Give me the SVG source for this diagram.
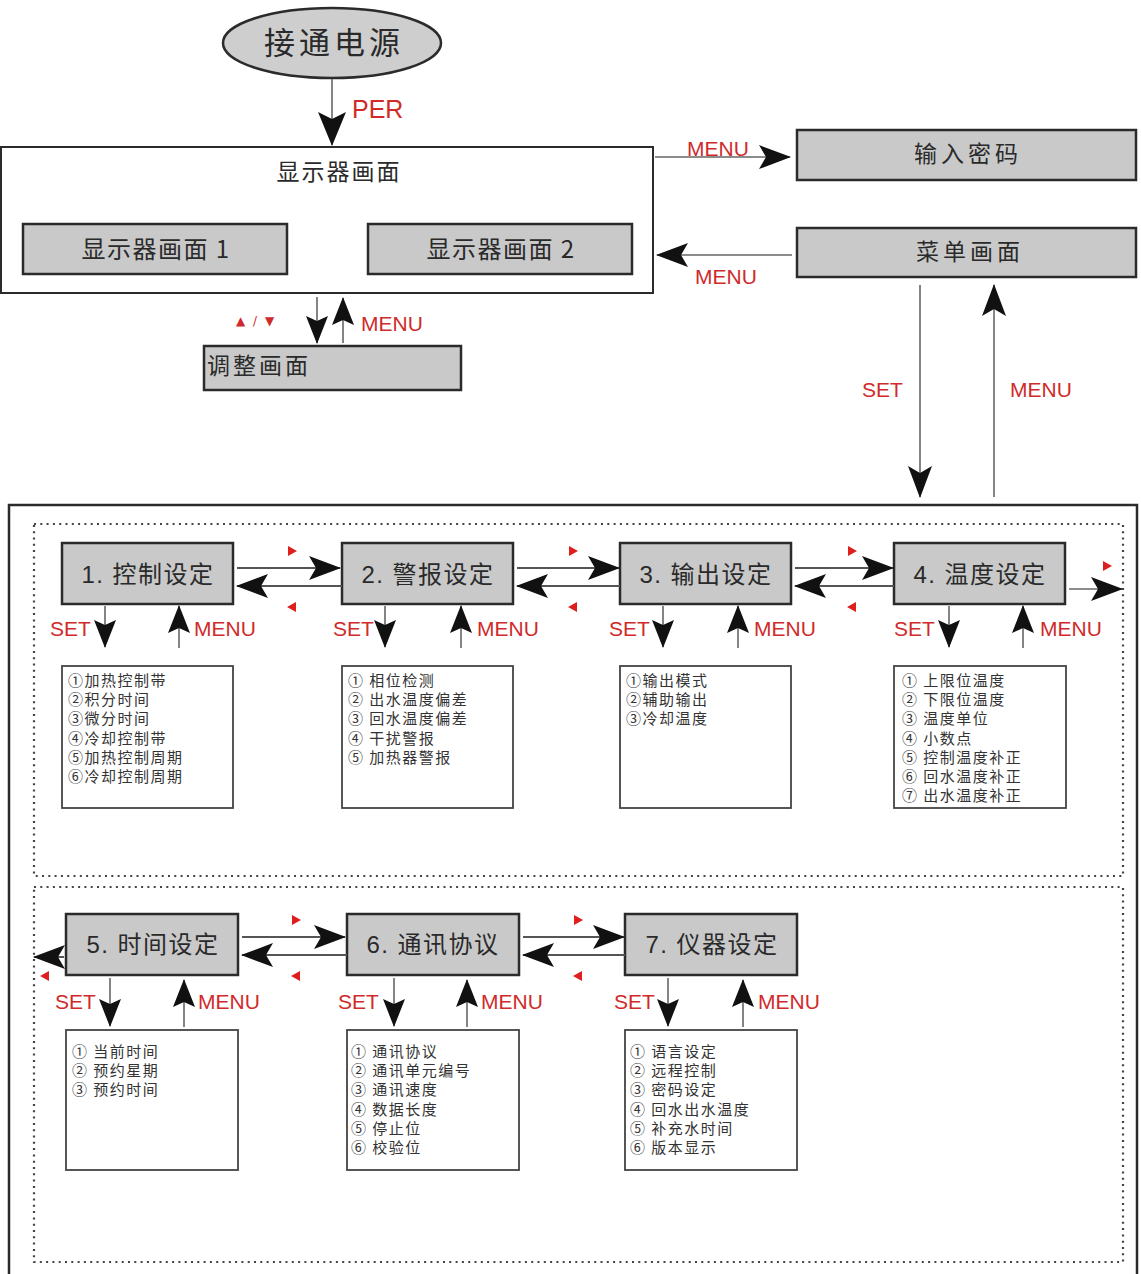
<svg xmlns="http://www.w3.org/2000/svg" width="1141" height="1274" viewBox="0 0 1141 1274">
<style>
.box{fill:#c9c9c9;stroke:#2b2b2b;stroke-width:2.5}
.wbox{fill:#fff;stroke:#2b2b2b;stroke-width:2}
.list{fill:#fff;stroke:#444;stroke-width:1.8}
.cj{font-family:"Noto Sans CJK SC","Liberation Sans",sans-serif;fill:#2a2a2a}
.hd{font-family:"Liberation Sans","Noto Sans CJK SC",sans-serif;font-size:24px;fill:#2a2a2a;text-anchor:middle;letter-spacing:1.5px}
.li{font-family:"Noto Sans CJK SC",sans-serif;font-size:15px;fill:#333;letter-spacing:1.5px}
.key{font-family:"Liberation Sans",Arial,sans-serif;font-size:21px;fill:#d02a2a}
.ln{fill:none;stroke:#555;stroke-width:2}
.lnb{fill:none;stroke:#666;stroke-width:1.6}
.dot{fill:none;stroke:#444;stroke-width:2.2;stroke-dasharray:2 4.3}
.rt{fill:#dd1f1f}
</style>
<defs>
<marker id="ah" markerUnits="userSpaceOnUse" viewBox="0 0 34 28" markerWidth="34" markerHeight="28" refX="33" refY="14" orient="auto"><path d="M0,0 L34,14 L0,28 L7,14 Z" fill="#111"/></marker>
<marker id="ab" markerUnits="userSpaceOnUse" viewBox="0 0 32 24" markerWidth="32" markerHeight="24" refX="31" refY="12" orient="auto"><path d="M0,0 L32,12 L0,24 L7,12 Z" fill="#111"/></marker>
<marker id="am" markerUnits="userSpaceOnUse" viewBox="0 0 28 22" markerWidth="28" markerHeight="22" refX="27" refY="11" orient="auto"><path d="M0,0 L28,11 L0,22 L5,11 Z" fill="#111"/></marker>
</defs>

<!-- frames -->
<g id="frames">
<rect x="9" y="505" width="1128" height="800" fill="none" stroke="#2b2b2b" stroke-width="2.5"/>
<rect class="dot" x="34" y="524" width="1089" height="352"/>
<rect class="dot" x="34" y="887" width="1089" height="375"/>
</g>

<g id="power">
<ellipse cx="332" cy="43" rx="109" ry="35" fill="#cecece" stroke="#2b2b2b" stroke-width="2.5"/>
<text class="cj" x="334" y="54" font-size="31" text-anchor="middle" letter-spacing="4">接通电源</text>
</g>

<g id="display">
<rect class="wbox" x="1" y="147" width="652" height="146"/>
<text class="cj" x="339" y="180" font-size="23" text-anchor="middle" letter-spacing="2">显示器画面</text>
</g>
<g id="display1">
<rect class="box" x="23" y="224" width="264" height="50"/>
<text class="cj" x="156" y="258" font-size="24" text-anchor="middle" letter-spacing="1.5">显示器画面 1</text>
</g>
<g id="display2">
<rect class="box" x="368" y="224" width="264" height="50"/>
<text class="cj" x="501" y="258" font-size="24" text-anchor="middle" letter-spacing="1.5">显示器画面 2</text>
</g>
<g id="adjust">
<rect class="box" x="204" y="346" width="257" height="44"/>
<text class="cj" x="207" y="374" font-size="23" letter-spacing="3">调整画面</text>
</g>
<g id="password">
<rect class="box" x="797" y="130" width="339" height="50"/>
<text class="cj" x="968" y="162" font-size="23" text-anchor="middle" letter-spacing="4">输入密码</text>
</g>
<g id="menu">
<rect class="box" x="797" y="228" width="339" height="49"/>
<text class="cj" x="970" y="260" font-size="23" text-anchor="middle" letter-spacing="4">菜单画面</text>
</g>

<!-- row 1 -->
<g id="n1">
<rect class="box" x="62" y="543" width="171" height="61"/>
<text class="hd" x="148" y="583">1. 控制设定</text>
</g>
<g id="n2">
<rect class="box" x="342" y="543" width="171" height="61"/>
<text class="hd" x="428" y="583">2. 警报设定</text>
</g>
<g id="n3">
<rect class="box" x="620" y="543" width="171" height="61"/>
<text class="hd" x="706" y="583">3. 输出设定</text>
</g>
<g id="n4">
<rect class="box" x="894" y="543" width="171" height="61"/>
<text class="hd" x="980" y="583">4. 温度设定</text>
</g>

<g id="l1">
<rect class="list" x="62" y="666" width="171" height="142"/>
<text class="li" x="68" y="686">①加热控制带</text>
<text class="li" x="68" y="705">②积分时间</text>
<text class="li" x="68" y="724">③微分时间</text>
<text class="li" x="68" y="744">④冷却控制带</text>
<text class="li" x="68" y="763">⑤加热控制周期</text>
<text class="li" x="68" y="782">⑥冷却控制周期</text>
</g>
<g id="l2">
<rect class="list" x="342" y="666" width="171" height="142"/>
<text class="li" x="348" y="686">① 相位检测</text>
<text class="li" x="348" y="705">② 出水温度偏差</text>
<text class="li" x="348" y="724">③ 回水温度偏差</text>
<text class="li" x="348" y="744">④ 干扰警报</text>
<text class="li" x="348" y="763">⑤ 加热器警报</text>
</g>
<g id="l3">
<rect class="list" x="620" y="666" width="171" height="142"/>
<text class="li" x="626" y="686">①输出模式</text>
<text class="li" x="626" y="705">②辅助输出</text>
<text class="li" x="626" y="724">③冷却温度</text>
</g>
<g id="l4">
<rect class="list" x="894" y="666" width="172" height="142"/>
<text class="li" x="902" y="686">① 上限位温度</text>
<text class="li" x="902" y="705">② 下限位温度</text>
<text class="li" x="902" y="724">③ 温度单位</text>
<text class="li" x="902" y="744">④ 小数点</text>
<text class="li" x="902" y="763">⑤ 控制温度补正</text>
<text class="li" x="902" y="782">⑥ 回水温度补正</text>
<text class="li" x="902" y="801">⑦ 出水温度补正</text>
</g>

<!-- row 2 -->
<g id="n5">
<rect class="box" x="66" y="914" width="172" height="61"/>
<text class="hd" x="153" y="953">5. 时间设定</text>
</g>
<g id="n6">
<rect class="box" x="347" y="914" width="172" height="61"/>
<text class="hd" x="433" y="953">6. 通讯协议</text>
</g>
<g id="n7">
<rect class="box" x="625" y="914" width="172" height="61"/>
<text class="hd" x="712" y="953">7. 仪器设定</text>
</g>

<g id="l5">
<rect class="list" x="66" y="1030" width="172" height="140"/>
<text class="li" x="72" y="1057">① 当前时间</text>
<text class="li" x="72" y="1076">② 预约星期</text>
<text class="li" x="72" y="1095">③ 预约时间</text>
</g>
<g id="l6">
<rect class="list" x="347" y="1030" width="172" height="140"/>
<text class="li" x="351" y="1057">① 通讯协议</text>
<text class="li" x="351" y="1076">② 通讯单元编号</text>
<text class="li" x="351" y="1095">③ 通讯速度</text>
<text class="li" x="351" y="1115">④ 数据长度</text>
<text class="li" x="351" y="1134">⑤ 停止位</text>
<text class="li" x="351" y="1153">⑥ 校验位</text>
</g>
<g id="l7">
<rect class="list" x="625" y="1030" width="172" height="140"/>
<text class="li" x="630" y="1057">① 语言设定</text>
<text class="li" x="630" y="1076">② 远程控制</text>
<text class="li" x="630" y="1095">③ 密码设定</text>
<text class="li" x="630" y="1115">④ 回水出水温度</text>
<text class="li" x="630" y="1134">⑤ 补充水时间</text>
<text class="li" x="630" y="1153">⑥ 版本显示</text>
</g>

<!-- connectors -->
<g id="connectors">
<line class="lnb" x1="332" y1="79" x2="332" y2="145" marker-end="url(#ah)"/>
<line class="lnb" x1="655" y1="157" x2="790" y2="157" marker-end="url(#ab)"/>
<line class="lnb" x1="792" y1="255" x2="657" y2="255" marker-end="url(#ab)"/>
<line class="lnb" x1="920" y1="285" x2="920" y2="497" marker-end="url(#ab)"/>
<line class="lnb" x1="994" y1="497" x2="994" y2="285" marker-end="url(#ab)"/>
<line class="lnb" x1="317" y1="297" x2="317" y2="343" marker-end="url(#am)"/>
<line class="lnb" x1="343" y1="343" x2="343" y2="298" marker-end="url(#am)"/>

<line class="ln" x1="237" y1="568" x2="340" y2="568" marker-end="url(#ab)"/>
<line class="ln" x1="342" y1="586" x2="237" y2="586" marker-end="url(#ab)"/>
<line class="ln" x1="517" y1="568" x2="619" y2="568" marker-end="url(#ab)"/>
<line class="ln" x1="620" y1="586" x2="517" y2="586" marker-end="url(#ab)"/>
<line class="ln" x1="795" y1="568" x2="893" y2="568" marker-end="url(#ab)"/>
<line class="ln" x1="894" y1="586" x2="795" y2="586" marker-end="url(#ab)"/>
<line class="lnb" x1="1069" y1="589" x2="1122" y2="589" marker-end="url(#ab)"/>

<line class="lnb" x1="105" y1="606" x2="105" y2="647" marker-end="url(#am)"/>
<line class="lnb" x1="179" y1="648" x2="179" y2="606" marker-end="url(#am)"/>
<line class="lnb" x1="385" y1="606" x2="385" y2="647" marker-end="url(#am)"/>
<line class="lnb" x1="461" y1="648" x2="461" y2="606" marker-end="url(#am)"/>
<line class="lnb" x1="663" y1="606" x2="663" y2="647" marker-end="url(#am)"/>
<line class="lnb" x1="738" y1="648" x2="738" y2="606" marker-end="url(#am)"/>
<line class="lnb" x1="949" y1="606" x2="949" y2="647" marker-end="url(#am)"/>
<line class="lnb" x1="1023" y1="648" x2="1023" y2="606" marker-end="url(#am)"/>

<line class="ln" x1="64" y1="957" x2="34" y2="957" marker-end="url(#ab)"/>
<line class="ln" x1="242" y1="937" x2="345" y2="937" marker-end="url(#ab)"/>
<line class="ln" x1="347" y1="955" x2="242" y2="955" marker-end="url(#ab)"/>
<line class="ln" x1="523" y1="937" x2="624" y2="937" marker-end="url(#ab)"/>
<line class="ln" x1="625" y1="955" x2="523" y2="955" marker-end="url(#ab)"/>

<line class="lnb" x1="110" y1="978" x2="110" y2="1026" marker-end="url(#am)"/>
<line class="lnb" x1="184" y1="1027" x2="184" y2="980" marker-end="url(#am)"/>
<line class="lnb" x1="394" y1="978" x2="394" y2="1026" marker-end="url(#am)"/>
<line class="lnb" x1="467" y1="1027" x2="467" y2="980" marker-end="url(#am)"/>
<line class="lnb" x1="668" y1="978" x2="668" y2="1026" marker-end="url(#am)"/>
<line class="lnb" x1="743" y1="1027" x2="743" y2="980" marker-end="url(#am)"/>
</g>

<!-- key labels -->
<g id="labels">
<text class="key" x="352" y="118" style="font-size:25px">PER</text>
<text class="key" x="687" y="156">MENU</text>
<text class="key" x="695" y="284">MENU</text>
<text class="key" x="862" y="397">SET</text>
<text class="key" x="1010" y="397">MENU</text>
<text class="key" x="361" y="331">MENU</text>
<text x="236" y="325" font-family="DejaVu Sans,sans-serif" font-size="12" fill="#d02a2a" letter-spacing="2">▲ / ▼</text>

<text class="key" x="50" y="636">SET</text>
<text class="key" x="194" y="636">MENU</text>
<text class="key" x="333" y="636">SET</text>
<text class="key" x="477" y="636">MENU</text>
<text class="key" x="609" y="636">SET</text>
<text class="key" x="754" y="636">MENU</text>
<text class="key" x="894" y="636">SET</text>
<text class="key" x="1040" y="636">MENU</text>

<text class="key" x="55" y="1009">SET</text>
<text class="key" x="198" y="1009">MENU</text>
<text class="key" x="338" y="1009">SET</text>
<text class="key" x="481" y="1009">MENU</text>
<text class="key" x="614" y="1009">SET</text>
<text class="key" x="758" y="1009">MENU</text>

<polygon class="rt" points="288,546 297,551 288,556"/>
<polygon class="rt" points="569,546 578,551 569,556"/>
<polygon class="rt" points="848,546 857,551 848,556"/>
<polygon class="rt" points="1103,561 1112,566 1103,571"/>
<polygon class="rt" points="296,602 287,607 296,612"/>
<polygon class="rt" points="577,602 568,607 577,612"/>
<polygon class="rt" points="856,602 847,607 856,612"/>
<polygon class="rt" points="292,915 301,920 292,925"/>
<polygon class="rt" points="574,915 583,920 574,925"/>
<polygon class="rt" points="49,971 40,976 49,981"/>
<polygon class="rt" points="300,971 291,976 300,981"/>
<polygon class="rt" points="582,971 573,976 582,981"/>
</g>
</svg>
